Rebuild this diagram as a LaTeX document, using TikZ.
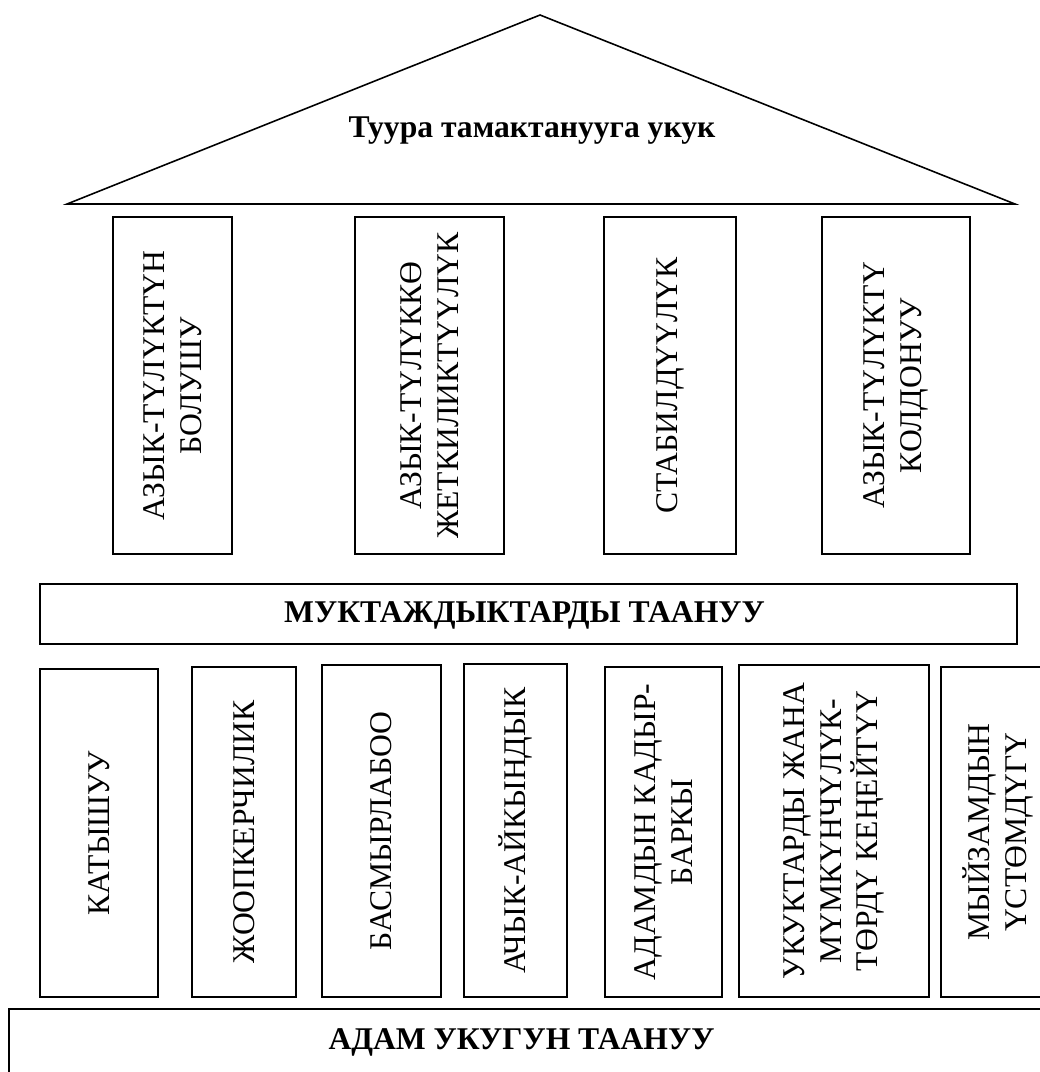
\documentclass[tikz,border=0pt]{standalone}
\usepackage{fontspec}
\setmainfont{Liberation Serif}

\tikzset{
    box/.style={draw, line width=0.9pt},
    pillar/.style={rotate=90, align=center, font=\fontsize{18}{21}\selectfont},
    title/.style={font=\fontsize{18}{21}\selectfont\bfseries}
}

\begin{document}
\begin{tikzpicture}[x=0.02cm, y=-0.02cm]
    \useasboundingbox (0,0) rectangle (1039,1072);

    % Roof
    \draw[box, line join=miter] (67,204) -- (540,15) -- (1015,204) -- cycle;
    \node[title] (roof) at (532,131) {Туура тамактанууга укук};

    % Upper pillars
    \draw[box] (113,217) rectangle (232,554);
    \node[pillar] (avail) at (172.5,385.5) {АЗЫК-ТҮЛҮКТҮН\\БОЛУШУ};
    \draw[box] (355,217) rectangle (504,554);
    \node[pillar] (access) at (429.5,385.5) {АЗЫК-ТҮЛҮККӨ\\ЖЕТКИЛИКТҮҮЛҮК};
    \draw[box] (604,217) rectangle (736,554);
    \node[pillar] (stable) at (670,385.5) {СТАБИЛДҮҮЛҮК};
    \draw[box] (822,217) rectangle (970,554);
    \node[pillar] (usage) at (896,385.5) {АЗЫК-ТҮЛҮКТҮ\\КОЛДОНУУ};

    % Middle beam
    \draw[box] (40,584) rectangle (1017,644);
    \node[title] (needs) at (524.5,615) {МУКТАЖДЫКТАРДЫ ТААНУУ};

    % Lower pillars
    \draw[box] (40,669) rectangle (158,997);
    \node[pillar] (part) at (99,833) {КАТЫШУУ};
    \draw[box] (192,667) rectangle (296,997);
    \node[pillar] (resp) at (244,832) {ЖООПКЕРЧИЛИК};
    \draw[box] (322,665) rectangle (441,997);
    \node[pillar] (nondisc) at (381.5,831) {БАСМЫРЛАБОО};
    \draw[box] (464,664) rectangle (567,997);
    \node[pillar] (transp) at (515.5,830.5) {АЧЫК-АЙКЫНДЫК};
    \draw[box] (605,667) rectangle (722,997);
    \node[pillar] (dignity) at (663.5,832) {АДАМДЫН КАДЫР-\\БАРКЫ};
    \draw[box] (739,665) rectangle (929,997);
    \node[pillar] (empower) at (834,831) {УКУКТАРДЫ ЖАНА\\МҮМКҮНЧҮЛҮК-\\ТӨРДҮ КЕҢЕЙТҮҮ};
    \draw[box] (941,667) rectangle (1060,997);
    \node[pillar] (law) at (998,832) {МЫЙЗАМДЫН\\ҮСТӨМДҮГҮ};

    % Base
    \draw[box] (9,1009) rectangle (1060,1100);
    \node[title] (base) at (521.5,1042) {АДАМ УКУГУН ТААНУУ};
\end{tikzpicture}
\end{document}
